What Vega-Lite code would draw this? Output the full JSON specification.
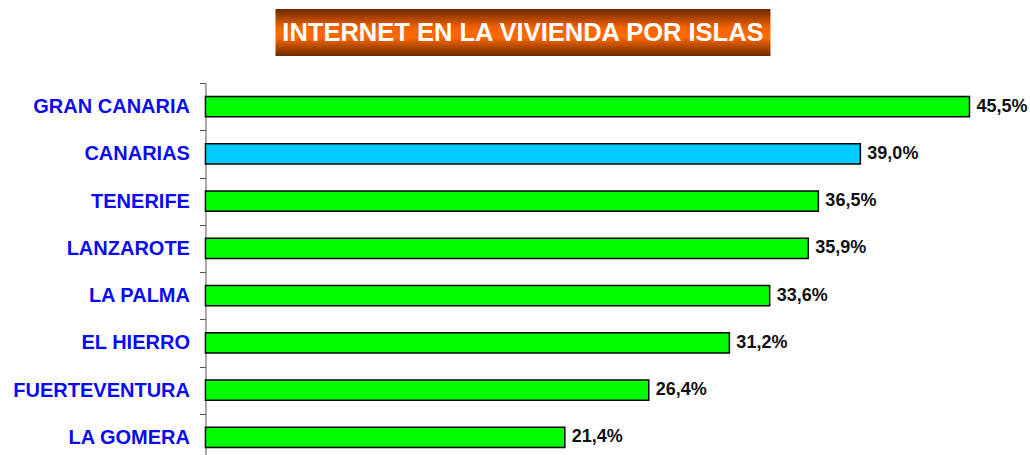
{
  "$schema": "https://vega.github.io/schema/vega-lite/v6.json",
  "padding": {"left": 12, "top": 9, "right": 0, "bottom": 0},
  "background": "white",
  "config": {
    "view": {"stroke": null},
    "font": "Liberation Sans",
    "locale": {"number": {"decimal": ",", "thousands": ".", "grouping": [3], "currency": ["", "%"]}}
  },
  "center": true,
  "spacing": 17,
  "vconcat": [
    {
      "width": 800,
      "height": 47,
      "data": {"values": [{"titulo": "INTERNET EN LA VIVIENDA POR ISLAS"}]},
      "encoding": {
        "x": {
          "field": "titulo", "type": "nominal",
          "scale": {"paddingInner": 0, "paddingOuter": 0.3081, "align": 0.1934},
          "axis": null
        }
      },
      "layer": [
        {
          "mark": {
            "type": "bar",
            "fill": {
              "gradient": "linear", "x1": 0, "y1": 0, "x2": 0, "y2": 1,
              "stops": [
                {"offset": 0, "color": "#6a2800"},
                {"offset": 0.4, "color": "#f56200"},
                {"offset": 0.6, "color": "#ff6a00"},
                {"offset": 1, "color": "#6a2800"}
              ]
            }
          }
        },
        {
          "mark": {"type": "text", "fontSize": 25.5, "fontWeight": "bold", "color": "white", "font": "Liberation Sans"},
          "encoding": {"text": {"field": "titulo"}}
        }
      ]
    },
    {
      "width": 806,
      "height": 378,
      "data": {"values": [
        {"isla": "GRAN CANARIA", "valor": 45.5, "tipo": "isla"},
        {"isla": "CANARIAS", "valor": 39.0, "tipo": "total"},
        {"isla": "TENERIFE", "valor": 36.5, "tipo": "isla"},
        {"isla": "LANZAROTE", "valor": 35.9, "tipo": "isla"},
        {"isla": "LA PALMA", "valor": 33.6, "tipo": "isla"},
        {"isla": "EL HIERRO", "valor": 31.2, "tipo": "isla"},
        {"isla": "FUERTEVENTURA", "valor": 26.4, "tipo": "isla"},
        {"isla": "LA GOMERA", "valor": 21.4, "tipo": "isla"}
      ]},
      "encoding": {
        "y": {
          "field": "isla", "type": "nominal", "sort": null,
          "scale": {"paddingInner": 0, "paddingOuter": 0},
          "axis": {
            "title": null,
            "labelFont": "Liberation Sans", "labelFontWeight": "bold", "labelFontSize": 20,
            "labelColor": "#0a0af5", "labelPadding": 10, "labelLimit": 400,
            "tickSize": 6, "tickColor": "#555555", "domainColor": "#555555",
            "tickBand": "extent", "domainWidth": 1, "tickWidth": 1
          }
        },
        "x": {
          "field": "valor", "type": "quantitative",
          "scale": {"domain": [0, 48], "nice": false},
          "axis": null
        }
      },
      "layer": [
        {
          "mark": {"type": "bar", "height": {"band": 0.43}, "stroke": "black", "strokeWidth": 1.5},
          "encoding": {
            "color": {
              "field": "tipo", "type": "nominal",
              "scale": {"domain": ["isla", "total"], "range": ["#00ff00", "#00ccff"]},
              "legend": null
            }
          }
        },
        {
          "mark": {"type": "text", "align": "left", "dx": 7, "fontSize": 18, "fontWeight": "bold", "color": "#111111", "font": "Liberation Sans"},
          "encoding": {"text": {"field": "valor", "type": "quantitative", "format": "$.1f"}}
        }
      ]
    }
  ]
}
